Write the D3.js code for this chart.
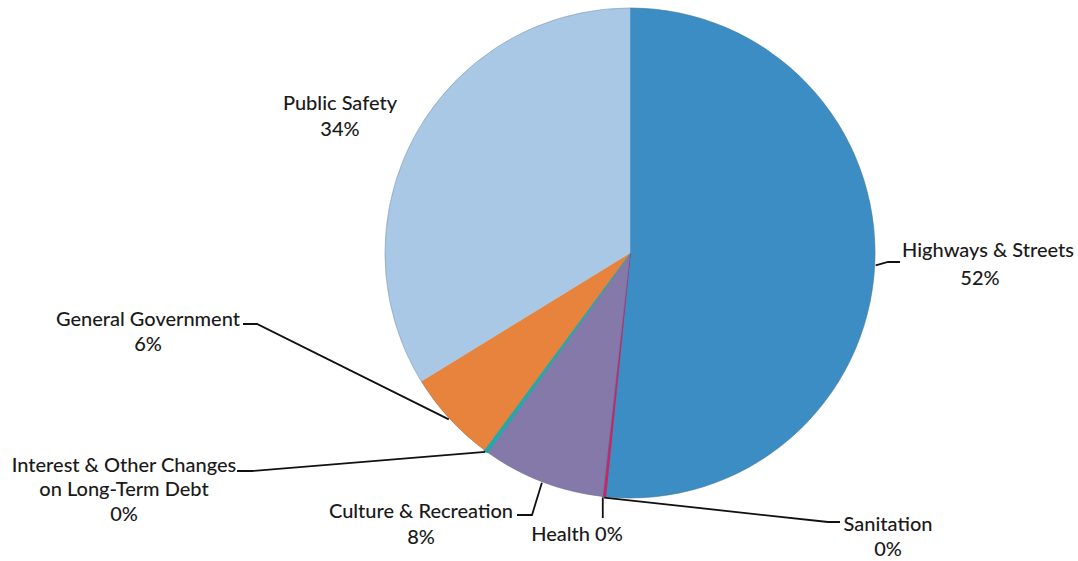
<!DOCTYPE html>
<html><head><meta charset="utf-8">
<script src="https://cdn.jsdelivr.net/npm/d3@7"></script>
<style>html,body{margin:0;padding:0;background:#fff;}svg{display:block;}</style>
</head><body>
<svg id="c" width="1078" height="561"></svg>
<script>
const categories = ["Highways & Streets","Sanitation","Health","Culture & Recreation","Interest & Other Changes on Long-Term Debt","General Government","Public Safety"];
const values = [51.6, 0.15, 0.03, 8.1, 0.25, 6.1, 33.77];
const colors = ["#3b8dc3","#d6215c","#7a4f8c","#8579a9","#23a9aa","#e8833d","#a9c8e6"];

const W=1078,H=561, cx=630, cy=253, R=245;
const svg=d3.select("#c");
const g=svg.append("g").attr("transform",`translate(${cx},${cy})`);
const pie=d3.pie().sort(null).value(d=>d)(values);
const arc=d3.arc().innerRadius(0).outerRadius(R);
g.selectAll("path").data(pie).enter().append("path")
  .attr("d",arc).attr("fill",(d,i)=>colors[i])
  .attr("stroke",(d,i)=>colors[i]).attr("stroke-width",(d,i)=>values[i]<1?1.5:0.5);
g.append("circle").attr("r",R).attr("fill","none").attr("stroke","#5a6a80").attr("stroke-width",0.6).attr("opacity",0.5);

const total=d3.sum(values);
const pct=v=>Math.round(v/total*100)+"%";
function edge(d,r){const a=(d.startAngle+d.endAngle)/2;return [cx+Math.sin(a)*r, cy-Math.cos(a)*r];}

const layout=[
 {i:0, lines:["Highways & Streets"], x:988,y:257, pctX:980,pctY:285, via:[[888,262],[900,262]]},
 {i:1, lines:["Sanitation"], x:888,y:531, pctX:888,pctY:556, via:[[828,522],[840,522]]},
 {i:2, lines:["Health 0%"], x:577,y:541, noPct:true, via:[[null,518]]},
 {i:3, lines:["Culture & Recreation"], x:421,y:518, pctX:421,pctY:544, via:[[532,515],[517,515]]},
 {i:4, lines:["Interest & Other Changes","on Long-Term Debt"], x:124,y:472, pctX:124,pctY:521, via:[[252,471],[237,471]]},
 {i:5, lines:["General Government"], x:148,y:326, pctX:148,pctY:351, via:[[257,324],[243,324]]},
 {i:6, lines:["Public Safety"], x:340,y:110, pctX:340,pctY:136, via:null}
];
const font="Lato, 'Open Sans', sans-serif";
layout.forEach(L=>{
  const d=pie[L.i];
  if(L.via){
    const p0=edge(d,R+1);
    const pts=[p0].concat(L.via.map(p=>[p[0]===null?p0[0]:p[0],p[1]]));
    svg.append("path").attr("d",d3.line()(pts)).attr("fill","none").attr("stroke","#111").attr("stroke-width",1.8);
  }
  L.lines.forEach((t,k)=>{
    svg.append("text").attr("x",L.x).attr("y",L.y+k*24).attr("text-anchor","middle")
      .attr("font-family",font).attr("font-size",20).attr("font-weight",500).attr("fill","#1a1a1a").text(t);
  });
  if(!L.noPct){
    svg.append("text").attr("x",L.pctX).attr("y",L.pctY).attr("text-anchor","middle")
      .attr("font-family",font).attr("font-size",20).attr("font-weight",500).attr("fill","#1a1a1a").text(pct(values[L.i]));
  }
});
</script>
</body></html>
